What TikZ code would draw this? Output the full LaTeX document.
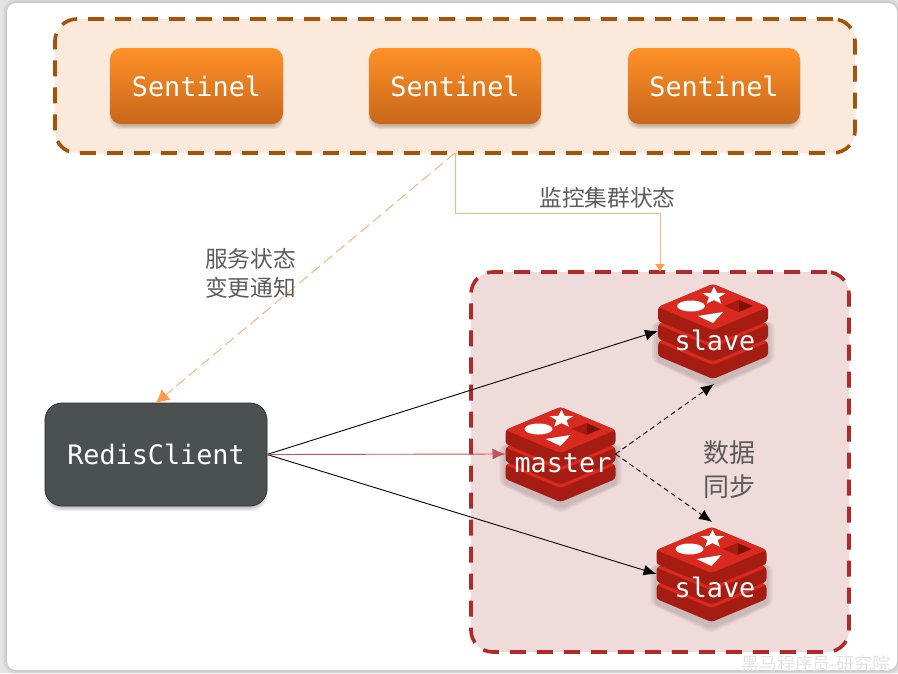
\documentclass[tikz,border=0pt]{standalone}
\usepackage{fontspec}
\setmainfont{Liberation Sans}
\newfontfamily\cjkf{Noto Sans CJK SC}
\newfontfamily\monof{DejaVu Sans Mono}
\usetikzlibrary{arrows.meta,calc}
\definecolor{pagegrey}{HTML}{E4E4E4}
\definecolor{orangeedge}{HTML}{A65207}
\definecolor{orangefill}{HTML}{FBE9DB}
\definecolor{orangetop}{HTML}{FF9127}
\definecolor{orangebot}{HTML}{C8661B}
\definecolor{redfill}{HTML}{F0DBDB}
\definecolor{rededge}{HTML}{B02A2A}
\definecolor{clientfill}{HTML}{4A5150}
\definecolor{clientedge}{HTML}{2E3433}
\definecolor{linkorange}{HTML}{FFB27A}
\definecolor{tiporange}{HTML}{FF9A4D}
\definecolor{linkred}{HTML}{C4565A}
\definecolor{labelgrey}{HTML}{5C5C5C}
\definecolor{iconface}{HTML}{DA291F}
\definecolor{iconside}{HTML}{A51C13}
\definecolor{icondark}{HTML}{A81C10}
\definecolor{icondarker}{HTML}{7A1208}
\newcommand{\softbox}[5]{%
  \foreach \s in {3,2,1,0}{\fill[black,opacity=.06,rounded corners=#5pt]
    (#1+2-\s,#2+6-\s) rectangle (#3-2+\s,#4+2+\s);}}
\tikzset{
  x=1pt,y=-1pt,
  groupbox/.style={draw,line width=3.6pt,dash pattern=on 16pt off 11pt,rounded corners=22pt,inner sep=0pt,outer sep=0pt},
  sentinelbox/.style={minimum width=173pt,minimum height=76pt,rounded corners=11pt,top color=orangetop,bottom color=orangebot,text=white,inner sep=0pt,outer sep=0pt,font=\monof\fontsize{26.8}{30}\selectfont},
  clientbox/.style={minimum width=222pt,minimum height=103pt,rounded corners=17pt,fill=clientfill,draw=clientedge,line width=.8pt,text=white,inner sep=0pt,outer sep=0pt,font=\monof\fontsize{26.8}{30}\selectfont},
  iconbox/.style={minimum width=110pt,minimum height=94pt,inner sep=0pt,outer sep=0pt},
  icontext/.style={text=white,inner sep=0pt,font=\monof\fontsize{26.8}{30}\selectfont},
  cjklabel/.style={text=labelgrey,inner sep=0pt,align=left,font=\cjkf\fontsize{22.7}{29}\selectfont},
  cjkbig/.style={text=labelgrey,inner sep=0pt,align=center,font=\cjkf\fontsize{26}{34}\selectfont},
  blackhead/.style={-{Latex[length=13pt,width=11pt]}},
  solidlink/.style={blackhead,black,line width=.9pt},
  dashlink/.style={blackhead,black,line width=.9pt,dash pattern=on 5pt off 3.5pt},
  redlink/.style={-{Latex[length=13pt,width=11pt]},linkred,line width=.9pt},
  notelink/.style={-{Latex[length=13pt,width=14pt,color=tiporange]},linkorange,line width=1pt,dash pattern=on 11pt off 5pt},
  watchlink/.style={-{Latex[length=8pt,width=10pt,color=tiporange]},linkorange,line width=1pt},
  redisicon/.pic={
    \foreach \s in {6,4,2}{\fill[black,opacity=.05,rounded corners=4pt]
      (-55-\s,-8)--(0,-20)--(55+\s,-8)--(55+\s,30)--(0,53+\s)--(-55-\s,30)--cycle;}
    \foreach \t in {-12,-29.5,-47}{
      \fill[iconside,rounded corners=3pt] (-55,\t+23)--(0,\t)--(55,\t+23)--(55,\t+37)--(0,\t+60)--(-55,\t+37)--cycle;
      \fill[iconface,rounded corners=3pt] (-55,\t+23)--(0,\t)--(55,\t+23)--(0,\t+46)--cycle;
    }
    \fill[white] (-22,-25) ellipse [x radius=14pt,y radius=5.5pt];
    \fill[white] (1,-44.5)--(4.1,-38.2)--(12.9,-37.9)--(6,-33.8)--(8.4,-27.3)--(1,-31)--(-6.4,-27.3)--(-4,-33.8)--(-10.9,-37.9)--(-2.1,-38.2)--cycle;
    \fill[white] (-15,-15)--(10,-19)--(0,-8)--cycle;
    \fill[icondark] (11,-25)--(26,-31)--(26,-19)--cycle;
    \fill[icondarker] (26,-31)--(40,-25)--(26,-19)--cycle;
  },
}
\begin{document}
\begin{tikzpicture}
\useasboundingbox (0,0) rectangle (898,673);
\fill[pagegrey] (0,0) rectangle (898,673);
\foreach \s in {4,3,2,1}{\fill[black,opacity=.03,rounded corners=12pt] (7-\s,3-\s) rectangle (897+\s,670+\s);}
\fill[white,rounded corners=9pt] (7,3) rectangle (897,670);

% Sentinel group
\node[groupbox,draw=orangeedge,fill=orangefill,minimum width=800pt,minimum height=134pt] (group) at (455,86) {};
\softbox{110}{48}{283}{124}{11}
\softbox{369}{48}{541}{124}{11}
\softbox{628}{48}{800}{124}{11}
\node[sentinelbox] (s1) at (196.5,86) {Sentinel};
\node[sentinelbox,minimum width=172pt] (s2) at (455,86) {Sentinel};
\node[sentinelbox,minimum width=172pt] (s3) at (714,86) {Sentinel};

% Redis group
\node[groupbox,draw=rededge,fill=redfill,minimum width=378pt,minimum height=380pt] (rgroup) at (660,462) {};

% Client
\softbox{45}{403}{267}{506}{17}
\node[clientbox] (client) at (156,454.5) {RedisClient};

% Redis icons
\pic at (713,331) {redisicon};
\pic at (560.5,454) {redisicon};
\pic at (711.5,574) {redisicon};
\node[iconbox] (slaveA) at (713,331) {};
\node[iconbox] (master) at (560.5,454) {};
\node[iconbox] (slaveB) at (711.5,574) {};
\node[icontext] (slaveAtext) at (715,340) {slave};
\node[icontext] (mastertext) at (563,463) {master};
\node[icontext] (slaveBtext) at (715,587) {slave};

% Connectors
\draw[notelink] (group.south) -- (client.north);
\coordinate (bendA) at (group.south |- 0,213);
\coordinate (bendB) at (rgroup.north |- 0,213);
\draw[watchlink] (group.south) -- (bendA) -- (bendB) -- (rgroup.north);
\draw[solidlink] (client.east) -- (slaveA.west);
\draw[solidlink] (client.east) -- (slaveB.west);
\draw[redlink] (client.east) -- (master.west);
\coordinate (syncA) at (714,384);
\coordinate (syncB) at (712,522);
\draw[dashlink] (master.east) -- (syncA);
\draw[dashlink] (master.east) -- (syncB);

% Labels
\node[cjklabel,anchor=north west] (note) at (205,248) {服务状态\\变更通知};
\node[cjklabel] (watch) at (607.5,198) {监控集群状态};
\node[cjkbig] (sync) at (729,470) {数据\\同步};
\node[text=black!11,inner sep=0pt,font=\cjkf\fontsize{17.8}{20}\selectfont,anchor=east] (mark) at (890.5,664) {黑马程序员-研究院};
\end{tikzpicture}
\end{document}
